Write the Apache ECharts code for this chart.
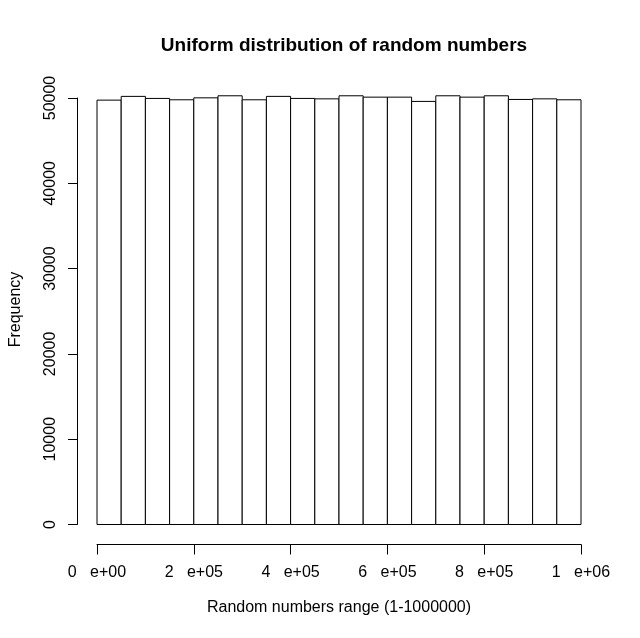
<!DOCTYPE html>
<html>
<head>
<meta charset="utf-8">
<script src="https://cdn.jsdelivr.net/npm/echarts@6/dist/echarts.min.js"></script>
<style>html,body{margin:0;padding:0;background:#fff;}#c{width:640px;height:638px;}</style>
</head>
<body>
<div id="c"></div>
<script>
// Histogram bins (left edges) and width
var binStarts = [0, 50000, 100000, 150000, 200000, 250000, 300000, 350000, 400000, 450000,
                 500000, 550000, 600000, 650000, 700000, 750000, 800000, 850000, 900000, 950000];
var binWidth = 50000;
// Frequencies
var frequencies = [49750, 50190, 49950, 49790, 50020, 50260, 49790, 50190, 49950, 49900,
                   50260, 50100, 50100, 49600, 50260, 50100, 50260, 49830, 49900, 49790];
// Tick labels
var xTickValues = [0, 200000, 400000, 600000, 800000, 1000000];
var xTickLabels = ["0   e+00", "2   e+05", "4   e+05", "6   e+05", "8   e+05", "1   e+06"];

var FONT = '"Liberation Sans", Arial, Helvetica, sans-serif';
var chart = echarts.init(document.getElementById('c'), null, {renderer: 'canvas'});

var data = binStarts.map(function (s, i) { return [s, s + binWidth, frequencies[i]]; });

chart.setOption({
  animation: false,
  backgroundColor: '#ffffff',
  title: {
    text: 'Uniform distribution of random numbers',
    left: 339, top: 31, textAlign: 'center',
    textStyle: {fontFamily: FONT, fontSize: 19, fontWeight: 'bold', color: '#000'}
  },
  grid: {left: 97, right: 59, top: 98, bottom: 113.5, containLabel: false},
  xAxis: {
    type: 'value', min: 0, max: 1000000, interval: 200000,
    position: 'bottom', offset: 20,
    axisLine: {show: true, onZero: false, lineStyle: {color: '#000', width: 1}},
    axisTick: {show: true, length: 10, lineStyle: {color: '#000'}},
    splitLine: {show: false},
    axisLabel: {
      margin: 20, color: '#000', fontFamily: FONT, fontSize: 16,
      showMinLabel: true, showMaxLabel: true,
      formatter: function (v) {
        var idx = xTickValues.indexOf(v);
        return idx >= 0 ? xTickLabels[idx] : '';
      }
    }
  },
  yAxis: {
    type: 'value', min: 0, max: 50000, interval: 10000,
    position: 'left', offset: 20,
    axisLine: {show: true, onZero: false, lineStyle: {color: '#000', width: 1}},
    axisTick: {show: true, length: 9, lineStyle: {color: '#000'}},
    splitLine: {show: false},
    axisLabel: {
      rotate: 90, margin: 18, color: '#000', fontFamily: FONT, fontSize: 16,
      formatter: function (v) { return String(v); }
    }
  },
  graphic: [
    {type: 'text', x: 16, y: 309.5, rotation: Math.PI / 2,
     style: {text: 'Frequency', font: '16px ' + FONT, fill: '#000', textAlign: 'center', textVerticalAlign: 'middle'}},
    {type: 'text', x: 339, y: 608,
     style: {text: 'Random numbers range (1-1000000)', font: '16px ' + FONT, fill: '#000', textAlign: 'center', textVerticalAlign: 'middle'}}
  ],
  series: [{
    type: 'custom',
    clip: false,
    data: data,
    encode: {x: [0, 1], y: 2},
    renderItem: function (params, api) {
      var p0 = api.coord([api.value(0), 0]);
      var p1 = api.coord([api.value(1), api.value(2)]);
      return {
        type: 'rect',
        shape: {x: p0[0], y: p1[1], width: p1[0] - p0[0], height: p0[1] - p1[1]},
        style: {fill: '#ffffff', stroke: '#000000', lineWidth: 1}
      };
    }
  }]
});
</script>
</body>
</html>
